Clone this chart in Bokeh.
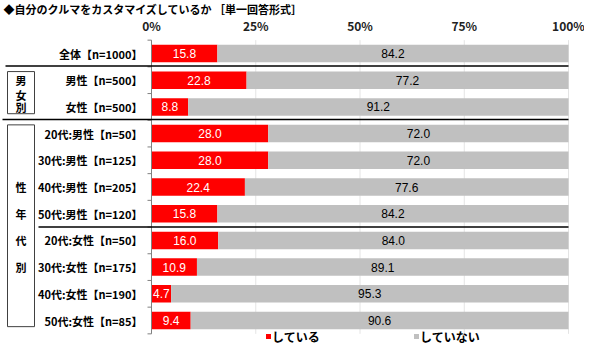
from bokeh.plotting import figure
from bokeh.models import Range1d, ColumnDataSource
from bokeh.core.properties import value
from bokeh.embed import file_html
from bokeh.resources import INLINE

# ---- data ----
categories = ["全体【n=1000】", "男性【n=500】", "女性【n=500】",
              "20代:男性【n=50】", "30代:男性【n=125】", "40代:男性【n=205】", "50代:男性【n=120】",
              "20代:女性【n=50】", "30代:女性【n=175】", "40代:女性【n=190】", "50代:女性【n=85】"]
doing = [15.8, 22.8, 8.8, 28.0, 28.0, 22.4, 15.8, 16.0, 10.9, 4.7, 9.4]
not_doing = [84.2, 77.2, 91.2, 72.0, 72.0, 77.6, 84.2, 84.0, 89.1, 95.3, 90.6]
series_names = ["している", "していない"]
tick_values = [0, 25, 50, 75, 100]
tick_labels = ["0%", "25%", "50%", "75%", "100%"]
title_text = "◆自分のクルマをカスタマイズしているか ［単一回答形式］"
group1 = ["男", "女", "別"]
group2 = ["性", "年", "代", "別"]

RED = "#FF0000"
GRAY = "#C0C0C0"
JP = "Noto Sans CJK JP"
NUM = "Liberation Sans"

W, H = 584, 344
X0_PX = 151          # pixel of 0%
SCALE = 417 / 100.0  # pixels per percent
ROW0_PX = 53         # pixel of first row centre
PITCH = 26.7         # pixels per row

def fx(px):
    return (px - X0_PX) / SCALE

def fy(px):
    return (px - ROW0_PX) / PITCH

p = figure(width=W, height=H, output_backend="svg", toolbar_location=None,
           x_range=Range1d(fx(0), fx(W)), y_range=Range1d(fy(H), fy(0)),
           x_axis_location=None, y_axis_location=None,
           min_border_left=0, min_border_right=0, min_border_bottom=0, min_border_top=0)
p.outline_line_color = None
p.xgrid.visible = False
p.ygrid.visible = False

n = len(categories)
rows = list(range(n))

# percent tick labels (top)
p.text(x=tick_values, y=[fy(25)] * len(tick_values), text=tick_labels,
       text_align="center", text_baseline="middle", text_font=value(JP),
       text_font_style="bold", text_font_size="12px", text_color="#222222")

# gridlines
p.segment(x0=tick_values[1:], x1=tick_values[1:], y0=[-0.5] * 4, y1=[n - 0.5] * 4,
          line_color="#E4E4E4", line_width=1)

src = ColumnDataSource(dict(
    y=rows, cat=categories, yes=doing, no=not_doing,
    no_left=doing, no_right=[a + b for a, b in zip(doing, not_doing)],
    yes_mid=[v / 2 for v in doing],
    no_mid=[a + b / 2 for a, b in zip(doing, not_doing)],
    yes_lab=[f"{v:.1f}" for v in doing], no_lab=[f"{v:.1f}" for v in not_doing],
    zero=[0] * n,
))

BAR_H = 0.655
p.hbar(y="y", left="zero", right="yes", height=BAR_H, source=src, fill_color=RED, line_color=None)
p.hbar(y="y", left="no_left", right="no_right", height=BAR_H, source=src, fill_color=GRAY, line_color=None)

p.text(x="yes_mid", y="y", text="yes_lab", source=src, text_align="center", text_baseline="middle",
       text_font=value(NUM), text_font_size="12px", text_color="white")
p.text(x="no_mid", y="y", text="no_lab", source=src, text_align="center", text_baseline="middle",
       text_font=value(NUM), text_font_size="12px", text_color="black")

# category labels
p.text(x=fx(142), y="y", text="cat", source=src, text_align="right", text_baseline="middle",
       text_font=value(JP), text_font_style="bold", text_font_size="11px", text_color="black")

# y axis line and boundary ticks
p.segment(x0=[0], x1=[0], y0=[-0.5], y1=[n - 0.5], line_color="#808080", line_width=1)
bounds = [i - 0.5 for i in range(n + 1)]
p.segment(x0=[fx(147)] * len(bounds), x1=[0] * len(bounds), y0=bounds, y1=bounds,
          line_color="#808080", line_width=1)

# separators
p.segment(x0=[fx(5), fx(2), fx(38)], x1=[100, 100, 100], y0=[0.47, 2.47, 6.5], y1=[0.47, 2.47, 6.5],
          line_color="black", line_width=1.5)

# group boxes
p.quad(left=[fx(7), fx(7)], right=[fx(34), fx(34)], top=[0.677, 2.673],
       bottom=[2.255, 10.23], fill_color=None, line_color="#404040", line_width=1)
p.text(x=[fx(20.5)] * 3, y=[0.987, 1.542, 2.007], text=group1,
       text_align="center", text_baseline="middle", text_font=value(JP), text_font_style="bold",
       text_font_size="11px", text_color="black")
p.text(x=[fx(20.5)] * 4, y=[5, 6, 7, 8], text=group2,
       text_align="center", text_baseline="middle", text_font=value(JP), text_font_style="bold",
       text_font_size="11px", text_color="black")

# legend
ly = fy(336)
p.rect(x=[fx(268), fx(416)], y=[ly, ly], width=5 / SCALE, height=5 / PITCH,
       fill_color=[RED, GRAY], line_color=None)
p.text(x=[fx(271.5), fx(419.5)], y=[ly, ly], text=series_names, text_align="left",
       text_baseline="middle", text_font=value(JP), text_font_style="bold",
       text_font_size="12px", text_color="black")

# title
p.text(x=[fx(3)], y=[fy(8)], text=[title_text], text_align="left", text_baseline="middle",
       text_font=value(JP), text_font_style="bold", text_font_size="11px", text_color="black")

open("out.html", "w").write(file_html(p, INLINE))
